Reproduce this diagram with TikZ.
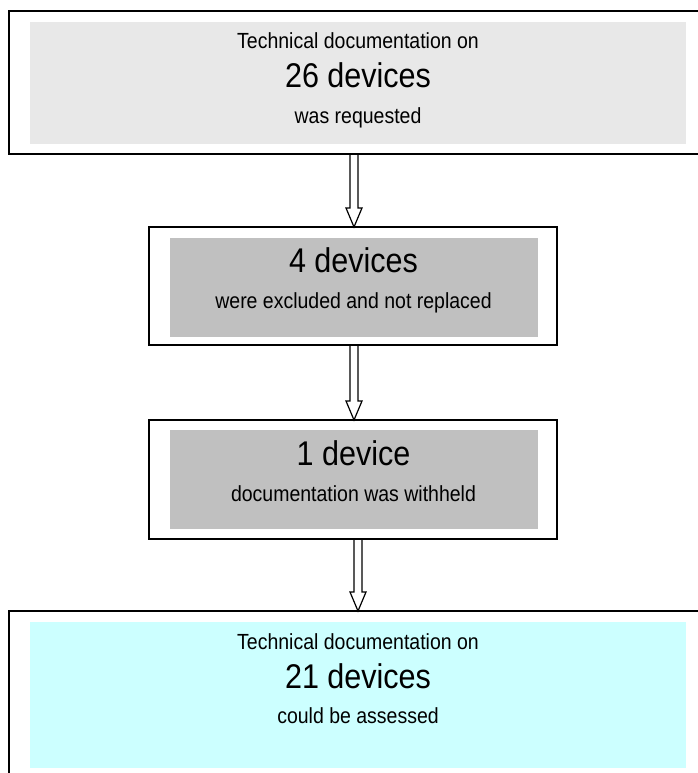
\documentclass[tikz,border=0pt]{standalone}
\usepackage{fontspec}
\setmainfont{Liberation Sans}[FakeStretch=0.89]
\usetikzlibrary{calc}
\definecolor{reqgray}{HTML}{E8E8E8}
\definecolor{lossgray}{HTML}{C0C0C0}
\definecolor{okcyan}{HTML}{CCFFFF}
\tikzstyle{boxframe}=[draw=black,line width=1.5pt,fill=white,inner sep=0pt,outer sep=0pt]
\tikzstyle{panel}=[inner sep=0pt,outer sep=0pt]
\tikzstyle{smalltext}=[font=\fontsize{21.9}{26}\selectfont,anchor=base,inner sep=0pt]
\tikzstyle{bigtext}=[font=\fontsize{34.3}{40}\selectfont,anchor=base,inner sep=0pt]
\tikzstyle{flow}=[draw,line width=1.2pt,line join=miter]
\newcommand{\flowarrow}[2]{%
  \path[flow] ($(#1.south -| #2p.north)+(-4,0)$) -- ($(#2.north -| #2p.north)+(-4,-19)$)
    -- ++(-4,0) -- (#2.north -| #2p.north) -- ++(8,-19) -- ++(-4,0)
    -- ($(#1.south -| #2p.north)+(4,0)$);}

\begin{document}
\begin{tikzpicture}[x=1pt,y=-1pt]
  \useasboundingbox (0,0) rectangle (698,773);
  % First we draw the frames and the shaded panels
  \foreach \pos/\w/\h/\name in {{(358,82.5)/698/143/req}, {(353,286)/408/118/excl}, {(353,479.5)/408/119/withh}, {(358,694.5)/698/167/ok}}
    \node[boxframe,minimum width=\w pt,minimum height=\h pt] (\name) at \pos {};
  \foreach \pos/\w/\h/\col/\name in {{(358,83)/656/122/reqgray/reqp}, {(354,287.5)/368/99/lossgray/exclp}, {(354,479.5)/368/99/lossgray/withhp}, {(358,695)/656/146/okcyan/okp}}
    \node[panel,fill=\col,minimum width=\w pt,minimum height=\h pt] (\name) at \pos {};

  % Then the texts, line by line
  \foreach \pos/\name/\txt in {{(358,49)/reqa/Technical documentation on}, {(358,124)/reqc/was requested}, {(353.5,308)/exclb/were excluded and not replaced}, {(353.5,501)/withhb/documentation was withheld}, {(358,649)/oka/Technical documentation on}, {(358,723)/okc/could be assessed}}
    \node[smalltext] (\name) at \pos {\txt};
  \foreach \pos/\name/\txt in {{(358,88)/reqb/26 devices}, {(353.5,272)/excla/4 devices}, {(353.5,465)/withha/1 device}, {(358,688)/okb/21 devices}}
    \node[bigtext] (\name) at \pos {\txt};

  % Connect the boxes with open arrows
  \flowarrow{req}{excl}
  \flowarrow{excl}{withh}
  \flowarrow{withh}{ok}
\end{tikzpicture}
\end{document}
